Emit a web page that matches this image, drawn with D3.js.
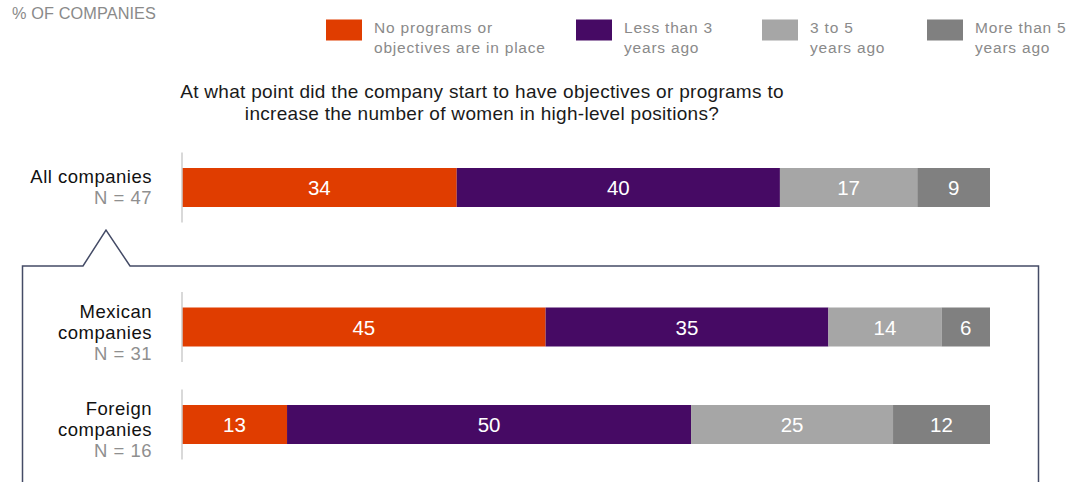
<!DOCTYPE html>
<html><head><meta charset="utf-8">
<script src="https://cdn.jsdelivr.net/npm/d3@7"></script>
<style>body{margin:0;background:#fff}svg{display:block;font-family:"Liberation Sans",Arial,Helvetica,sans-serif}</style>
</head><body><svg id="c" width="1083" height="482"></svg>
<script>
const groups = ["All companies", "Mexican companies", "Foreign companies"];
const groupLines = [["All companies"], ["Mexican", "companies"], ["Foreign", "companies"]];
const nLabels = ["N = 47", "N = 31", "N = 16"];
const seriesNames = ["No programs or objectives are in place", "Less than 3 years ago", "3 to 5 years ago", "More than 5 years ago"];
const legendLines = [["No programs or", "objectives are in place"], ["Less than 3", "years ago"], ["3 to 5", "years ago"], ["More than 5", "years ago"]];
const noPrograms = [34, 45, 13];
const lessThan3 = [40, 35, 50];
const threeTo5 = [17, 14, 25];
const moreThan5 = [9, 6, 12];
const colors = ["#e03d00", "#460a64", "#a6a6a6", "#808080"];

const svg = d3.select("#c");
const x = d3.scaleLinear().domain([0, 100]).range([182, 990]);
const yPos = {"All companies": 187.5, "Mexican companies": 327, "Foreign companies": 424.5};
const barH = 39;

svg.append("text").attr("x", 12).attr("y", 19).attr("font-size", 16.3).attr("letter-spacing", 0.1).attr("fill", "#8a8a8a").text("% OF COMPANIES");

// legend
const legX = [326, 576, 762, 927];
seriesNames.forEach((s, i) => {
  svg.append("rect").attr("x", legX[i]).attr("y", 19.5).attr("width", 36).attr("height", 21).attr("fill", colors[i]);
  legendLines[i].forEach((l, j) => {
    svg.append("text").attr("x", legX[i] + 48).attr("y", 32.5 + j * 20).attr("font-size", 15.5).attr("letter-spacing", 0.8).attr("fill", "#8a8a8a").text(l);
  });
});

// title
["At what point did the company start to have objectives or programs to", "increase the number of women in high-level positions?"].forEach((t, j) => {
  svg.append("text").attr("x", 482).attr("y", 98 + j * 22).attr("text-anchor", "middle").attr("font-size", 19).attr("letter-spacing", 0.3).attr("fill", "#1a1a1a").text(t);
});

// frame with notch
svg.append("path")
  .attr("d", `M22.5,482 L22.5,266 L83,266 L106,230 L130,266 L1038.5,266 L1038.5,482`)
  .attr("fill", "none").attr("stroke", "#444b66").attr("stroke-width", 1.5);

const series = [noPrograms, lessThan3, threeTo5, moreThan5];
groups.forEach((g, gi) => {
  const cy = yPos[g];
  let acc = 0;
  series.forEach((arr, si) => {
    const v = arr[gi];
    svg.append("rect").attr("x", x(acc)).attr("y", cy - barH / 2).attr("width", x(acc + v) - x(acc)).attr("height", barH).attr("fill", colors[si]);
    svg.append("text").attr("x", (x(acc) + x(acc + v)) / 2).attr("y", cy + 7.5).attr("text-anchor", "middle").attr("font-size", 20.5).attr("fill", "#fff").text(v);
    acc += v;
  });
  svg.append("line").attr("x1", 182).attr("x2", 182).attr("y1", cy - 35).attr("y2", cy + 35).attr("stroke", "#cccccc").attr("stroke-width", 1.5);
  const lines = groupLines[gi];
  const startY = lines.length === 1 ? cy - 4.5 : cy - 9.5;
  lines.forEach((l, j) => {
    svg.append("text").attr("x", 152).attr("y", startY + j * 21).attr("text-anchor", "end").attr("font-size", 18.5).attr("letter-spacing", 0.5).attr("fill", "#111").text(l);
  });
  svg.append("text").attr("x", 152).attr("y", startY + lines.length * 21).attr("text-anchor", "end").attr("font-size", 18.5).attr("letter-spacing", 0.5).attr("fill", "#8f8f8f").text(nLabels[gi]);
});
</script></body></html>
